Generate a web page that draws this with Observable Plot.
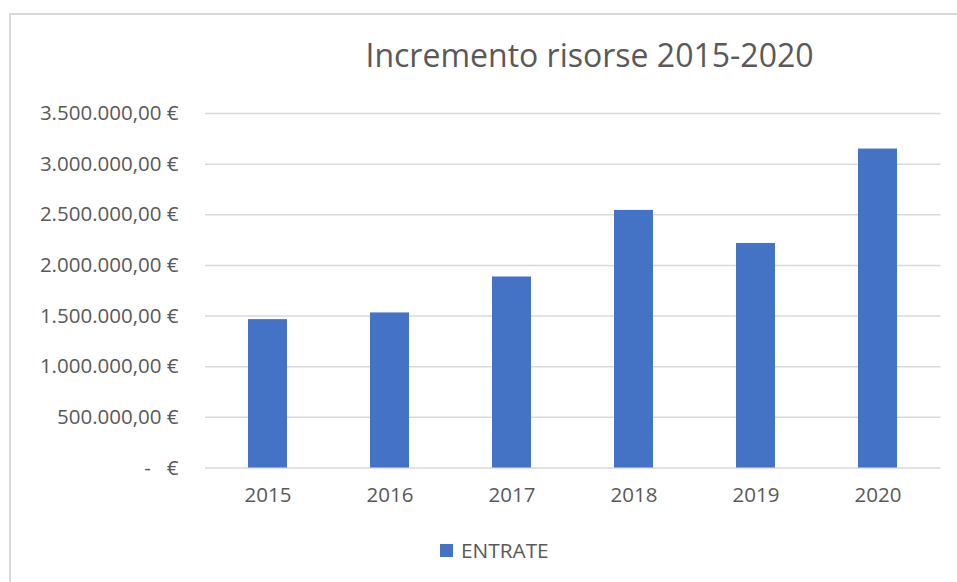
<!DOCTYPE html>
<html>
<head>
<meta charset="utf-8">
<script src="https://cdn.jsdelivr.net/npm/d3@7"></script>
<script src="https://cdn.jsdelivr.net/npm/@observablehq/plot@0.6"></script>
<style>
  html, body { margin: 0; padding: 0; background: #fff; }
  #frame { position: relative; width: 957px; height: 582px; overflow: hidden; font-family: "Open Sans", sans-serif; }
  #border { position: absolute; left: 9px; top: 13px; width: 960px; height: 600px; border: 2px solid #d9d9d9; box-sizing: border-box; }
  #title { position: absolute; left: 0; top: 36px; width: 100%; text-align: center; padding-left: 222px; box-sizing: border-box; font-size: 32px; color: #595959; line-height: 1.2; }
  #chart { position: absolute; left: 0; top: 95px; }
  #legend { position: absolute; left: 440px; top: 538px; display: flex; align-items: center; font-size: 20.8px; color: #595959; line-height: 1.2; }
  #legend .sw { width: 13px; height: 13px; background: #4472C4; margin-right: 8px; }
</style>
</head>
<body>
<div id="frame">
  <div id="border"></div>
  <div id="title">Incremento risorse 2015-2020</div>
  <div id="chart"></div>
  <div id="legend"><span class="sw"></span><span>ENTRATE</span></div>
</div>
<script>
const years = ["2015", "2016", "2017", "2018", "2019", "2020"];
const entrate = [1465000, 1531000, 1886000, 2543000, 2217000, 3149000];
const yTicks = [0, 500000, 1000000, 1500000, 2000000, 2500000, 3000000, 3500000];
const yTickLabels = ["-   €", "500.000,00 €", "1.000.000,00 €", "1.500.000,00 €", "2.000.000,00 €", "2.500.000,00 €", "3.000.000,00 €", "3.500.000,00 €"];

const data = years.map((y, i) => ({year: y, value: entrate[i]}));

const chart = Plot.plot({
  width: 957,
  height: 430,
  marginTop: 18,
  marginBottom: 57.5,
  marginLeft: 205,
  marginRight: 16.5,
  style: {fontFamily: "Open Sans, sans-serif", fontSize: "20.5px", color: "#595959", background: "transparent"},
  x: {domain: years, paddingInner: 0.682, paddingOuter: 0.341, label: null},
  y: {domain: [0, 3500000], label: null},
  marks: [
    Plot.ruleY(yTicks, {stroke: "#d9d9d9", strokeWidth: 1.5}),
    Plot.barY(data, {x: "year", y: "value", fill: "#4472C4"}),
    Plot.axisY({ticks: yTicks, tickFormat: (d) => yTickLabels[yTicks.indexOf(d)], tickSize: 0, tickPadding: 27, fill: "#595959"}),
    Plot.axisX({tickSize: 0, tickPadding: 19, fill: "#595959"})
  ]
});
document.getElementById("chart").appendChild(chart);
</script>
</body>
</html>
